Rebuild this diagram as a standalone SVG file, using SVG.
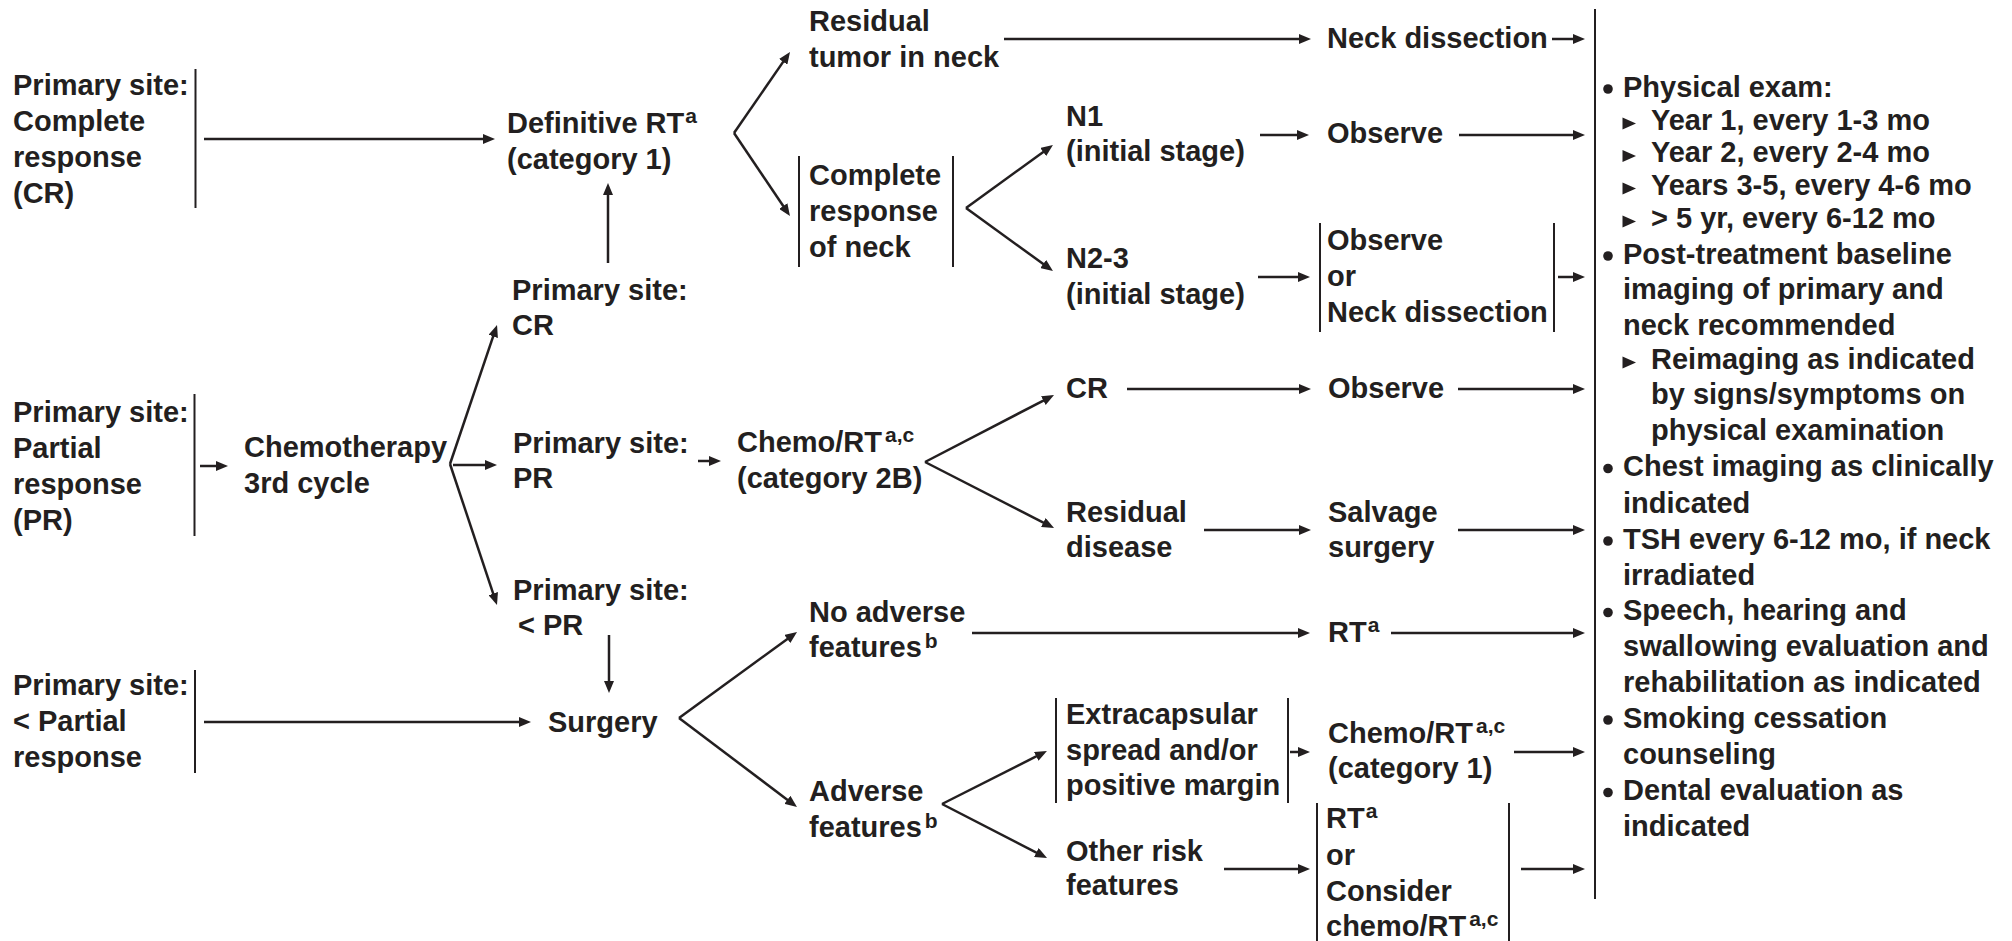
<svg xmlns="http://www.w3.org/2000/svg" width="2012" height="941" viewBox="0 0 2012 941">
<style>
.t{font-family:"Liberation Sans",Arial,Helvetica,sans-serif;font-weight:bold;font-size:29px;fill:#231f20}
.s{font-size:21px}
.ln{stroke:#231f20;stroke-width:2.5;fill:none;marker-end:url(#ah)}
.br{stroke:#231f20;stroke-width:2;fill:none}
.dot{fill:#231f20}
</style>
<defs>
<marker id="ah" markerUnits="userSpaceOnUse" viewBox="0 0 12 10" markerWidth="12" markerHeight="10" refX="6" refY="5" orient="auto">
<path d="M0,0 L12,5 L0,10 z" fill="#231f20"/>
</marker>
</defs>
<rect width="2012" height="941" fill="#ffffff"/>

<g id="connectors">
<line class="ln" x1="204" y1="139" x2="489" y2="139"/>
<line class="ln" x1="1004" y1="39" x2="1305" y2="39"/>
<line class="ln" x1="1552" y1="39" x2="1579" y2="39"/>
<line class="ln" x1="1260" y1="135" x2="1303" y2="135"/>
<line class="ln" x1="1459" y1="135" x2="1579" y2="135"/>
<line class="ln" x1="1258" y1="277" x2="1304" y2="277"/>
<line class="ln" x1="1558" y1="277" x2="1579" y2="277"/>
<line class="ln" x1="200" y1="466" x2="222" y2="466"/>
<line class="ln" x1="453" y1="465" x2="491" y2="465"/>
<line class="ln" x1="698" y1="461" x2="715" y2="461"/>
<line class="ln" x1="1127" y1="389" x2="1305" y2="389"/>
<line class="ln" x1="1458" y1="389" x2="1579" y2="389"/>
<line class="ln" x1="1204" y1="530" x2="1305" y2="530"/>
<line class="ln" x1="1458" y1="530" x2="1579" y2="530"/>
<line class="ln" x1="204" y1="722" x2="525" y2="722"/>
<line class="ln" x1="972" y1="633" x2="1304" y2="633"/>
<line class="ln" x1="1391" y1="633" x2="1579" y2="633"/>
<line class="ln" x1="1290" y1="752" x2="1304" y2="752"/>
<line class="ln" x1="1514" y1="752" x2="1579" y2="752"/>
<line class="ln" x1="1224" y1="869" x2="1304" y2="869"/>
<line class="ln" x1="1521" y1="869" x2="1579" y2="869"/>
<line class="ln" x1="608" y1="263" x2="608" y2="189"/>
<line class="ln" x1="609" y1="635" x2="609" y2="687"/>
<line class="ln" x1="734" y1="133" x2="786.6" y2="56.9"/>
<line class="ln" x1="734" y1="133" x2="786.6" y2="211"/>
<line class="ln" x1="966" y1="208" x2="1048.1" y2="148.5"/>
<line class="ln" x1="966" y1="208" x2="1048.1" y2="267.5"/>
<line class="ln" x1="450" y1="464" x2="495.1" y2="330.7"/>
<line class="ln" x1="450" y1="464" x2="495.1" y2="599.3"/>
<line class="ln" x1="925" y1="462" x2="1048.7" y2="397.8"/>
<line class="ln" x1="925" y1="462" x2="1048.7" y2="525.3"/>
<line class="ln" x1="679" y1="718" x2="792.2" y2="635.5"/>
<line class="ln" x1="679" y1="718" x2="792.2" y2="803.4"/>
<line class="ln" x1="942" y1="804" x2="1041.6" y2="753.7"/>
<line class="ln" x1="942" y1="804" x2="1041.7" y2="855.3"/>
</g>

<g id="n_cr">
<line class="br" x1="195.5" y1="69" x2="195.5" y2="208"/>
<text class="t"><tspan x="13" y="95">Primary site:</tspan><tspan x="13" y="131">Complete</tspan><tspan x="13" y="167">response</tspan><tspan x="13" y="203">(CR)</tspan></text>
</g>
<g id="n_pr">
<line class="br" x1="194.5" y1="394" x2="194.5" y2="536"/>
<text class="t"><tspan x="13" y="422">Primary site:</tspan><tspan x="13" y="458">Partial</tspan><tspan x="13" y="494">response</tspan><tspan x="13" y="530">(PR)</tspan></text>
</g>
<g id="n_lpr">
<line class="br" x1="195" y1="670" x2="195" y2="773"/>
<text class="t"><tspan x="13" y="695">Primary site:</tspan><tspan x="13" y="731">&lt; Partial</tspan><tspan x="13" y="767">response</tspan></text>
</g>
<g id="n_defrt">
<text class="t"><tspan x="507" y="133">Definitive RT</tspan><tspan class="s" dx="1" dy="-10">a</tspan><tspan x="507" y="169">(category 1)</tspan></text>
</g>
<g id="n_chemo3">
<text class="t"><tspan x="244" y="457">Chemotherapy</tspan><tspan x="244" y="493">3rd cycle</tspan></text>
</g>
<g id="n_pscr">
<text class="t"><tspan x="512" y="300">Primary site:</tspan><tspan x="512" y="335">CR</tspan></text>
</g>
<g id="n_pspr">
<text class="t"><tspan x="513" y="453">Primary site:</tspan><tspan x="513" y="488">PR</tspan></text>
</g>
<g id="n_pslpr">
<text class="t"><tspan x="513" y="600">Primary site:</tspan><tspan x="518" y="635">&lt; PR</tspan></text>
</g>
<g id="n_chemort1">
<text class="t"><tspan x="737" y="452">Chemo/RT</tspan><tspan class="s" dx="3" dy="-10">a,c</tspan><tspan x="737" y="488">(category 2B)</tspan></text>
</g>
<g id="n_residneck">
<text class="t"><tspan x="809" y="31">Residual</tspan><tspan x="809" y="67">tumor in neck</tspan></text>
</g>
<g id="n_crneck">
<line class="br" x1="799" y1="156" x2="799" y2="267"/>
<line class="br" x1="953" y1="156" x2="953" y2="267"/>
<text class="t"><tspan x="809" y="185">Complete</tspan><tspan x="809" y="221">response</tspan><tspan x="809" y="257">of neck</tspan></text>
</g>
<g id="n_neckdiss">
<text class="t" x="1327" y="48">Neck dissection</text>
</g>
<g id="n_n1">
<text class="t"><tspan x="1066" y="126">N1</tspan><tspan x="1066" y="161">(initial stage)</tspan></text>
</g>
<g id="n_obs1">
<text class="t" x="1327" y="143">Observe</text>
</g>
<g id="n_n23">
<text class="t"><tspan x="1066" y="268">N2-3</tspan><tspan x="1066" y="304">(initial stage)</tspan></text>
</g>
<g id="n_obsor">
<line class="br" x1="1320" y1="223" x2="1320" y2="332"/>
<line class="br" x1="1554" y1="223" x2="1554" y2="332"/>
<text class="t"><tspan x="1327" y="250">Observe</tspan><tspan x="1327" y="286">or</tspan><tspan x="1327" y="322">Neck dissection</tspan></text>
</g>
<g id="n_cr2">
<text class="t" x="1066" y="398">CR</text>
</g>
<g id="n_obs2">
<text class="t" x="1328" y="398">Observe</text>
</g>
<g id="n_resdis">
<text class="t"><tspan x="1066" y="522">Residual</tspan><tspan x="1066" y="557">disease</tspan></text>
</g>
<g id="n_salv">
<text class="t"><tspan x="1328" y="522">Salvage</tspan><tspan x="1328" y="557">surgery</tspan></text>
</g>
<g id="n_surg">
<text class="t" x="548" y="732">Surgery</text>
</g>
<g id="n_noadv">
<text class="t"><tspan x="809" y="622">No adverse</tspan><tspan x="809" y="657">features</tspan><tspan class="s" dx="3" dy="-9">b</tspan></text>
</g>
<g id="n_adv">
<text class="t"><tspan x="809" y="801">Adverse</tspan><tspan x="809" y="837">features</tspan><tspan class="s" dx="3" dy="-9">b</tspan></text>
</g>
<g id="n_rt">
<text class="t"><tspan x="1328" y="642">RT</tspan><tspan class="s" dx="1" dy="-10">a</tspan></text>
</g>
<g id="n_extra">
<line class="br" x1="1056" y1="698" x2="1056" y2="803"/>
<line class="br" x1="1288" y1="698" x2="1288" y2="803"/>
<text class="t"><tspan x="1066" y="724">Extracapsular</tspan><tspan x="1066" y="760">spread and/or</tspan><tspan x="1066" y="795">positive margin</tspan></text>
</g>
<g id="n_chemort2">
<text class="t"><tspan x="1328" y="743">Chemo/RT</tspan><tspan class="s" dx="3" dy="-10">a,c</tspan><tspan x="1328" y="778">(category 1)</tspan></text>
</g>
<g id="n_other">
<text class="t"><tspan x="1066" y="861">Other risk</tspan><tspan x="1066" y="895">features</tspan></text>
</g>
<g id="n_rtor">
<line class="br" x1="1317" y1="803" x2="1317" y2="941"/>
<line class="br" x1="1509" y1="803" x2="1509" y2="941"/>
<text class="t"><tspan x="1326" y="828">RT</tspan><tspan class="s" dx="1" dy="-10">a</tspan><tspan x="1326" y="865">or</tspan><tspan x="1326" y="901">Consider</tspan><tspan x="1326" y="936">chemo/RT</tspan><tspan class="s" dx="3" dy="-10">a,c</tspan></text>
</g>

<g id="n_followup">
<line class="br" x1="1595" y1="9" x2="1595" y2="899"/>
<circle class="dot" cx="1608" cy="89" r="4.8"/>
<circle class="dot" cx="1608" cy="256" r="4.8"/>
<circle class="dot" cx="1608" cy="468.5" r="4.8"/>
<circle class="dot" cx="1608" cy="541" r="4.8"/>
<circle class="dot" cx="1608" cy="612.5" r="4.8"/>
<circle class="dot" cx="1608" cy="720" r="4.8"/>
<circle class="dot" cx="1608" cy="792.5" r="4.8"/>
<polygon class="dot" points="1622.5,117.5 1636,123.5 1622.5,129.5"/>
<polygon class="dot" points="1622.5,150 1636,156 1622.5,162"/>
<polygon class="dot" points="1622.5,182.5 1636,188.5 1622.5,194.5"/>
<polygon class="dot" points="1622.5,215.5 1636,221.5 1622.5,227.5"/>
<polygon class="dot" points="1622.5,356.5 1636,362.5 1622.5,368.5"/>
<text class="t">
<tspan x="1623" y="97">Physical exam:</tspan>
<tspan x="1651" y="129.5">Year 1, every 1-3 mo</tspan>
<tspan x="1651" y="162">Year 2, every 2-4 mo</tspan>
<tspan x="1651" y="194.5">Years 3-5, every 4-6 mo</tspan>
<tspan x="1651" y="227.5">&gt; 5 yr, every 6-12 mo</tspan>
<tspan x="1623" y="263.5">Post-treatment baseline</tspan>
<tspan x="1623" y="299">imaging of primary and</tspan>
<tspan x="1623" y="334.5">neck recommended</tspan>
<tspan x="1651" y="368.5">Reimaging as indicated</tspan>
<tspan x="1651" y="404">by signs/symptoms on</tspan>
<tspan x="1651" y="439.5">physical examination</tspan>
<tspan x="1623" y="476">Chest imaging as clinically</tspan>
<tspan x="1623" y="512.5">indicated</tspan>
<tspan x="1623" y="548.5">TSH every 6-12 mo, if neck</tspan>
<tspan x="1623" y="585">irradiated</tspan>
<tspan x="1623" y="620">Speech, hearing and</tspan>
<tspan x="1623" y="656">swallowing evaluation and</tspan>
<tspan x="1623" y="691.5">rehabilitation as indicated</tspan>
<tspan x="1623" y="727.5">Smoking cessation</tspan>
<tspan x="1623" y="763.5">counseling</tspan>
<tspan x="1623" y="800">Dental evaluation as</tspan>
<tspan x="1623" y="836">indicated</tspan>
</text>
</g>
</svg>
